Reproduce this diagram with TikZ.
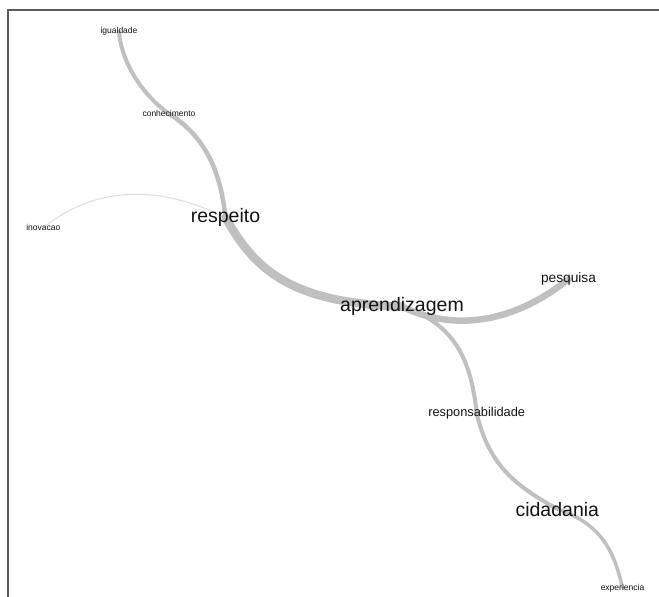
\documentclass[tikz,border=0pt]{standalone}
\usepackage{fontspec}
\setmainfont{Liberation Sans}
\usetikzlibrary{backgrounds}
\definecolor{edgegray}{RGB}{192,192,192}
\definecolor{lightedge}{RGB}{222,222,222}
\definecolor{framegray}{RGB}{90,90,90}
\definecolor{txt}{RGB}{20,20,20}
\begin{document}
\begin{tikzpicture}[x=1pt,y=-1pt,
  lbl/.style={inner sep=0pt, anchor=base, text=txt},
  tiny/.style={lbl, font=\fontsize{8.5}{10}\selectfont},
  mid/.style={lbl, font=\fontsize{12.8}{14}\selectfont},
  big/.style={lbl, font=\fontsize{19.5}{22}\selectfont},
  edge/.style={draw=edgegray, line cap=round},
  faint/.style={draw=lightedge, line cap=round, line width=1pt},
]
\useasboundingbox (0,0) rectangle (659,597);

\node[tiny] (igualdade) at (119,34) {igualdade};
\node[tiny] (conhecimento) at (169,116.7) {conhecimento};
\node[big] (respeito) at (225.5,222.7) {respeito};
\node[tiny] (inovacao) at (43.3,230.7) {inovacao};
\node[big] (aprendizagem) at (402,311.7) {aprendizagem};
\node[font=\fontsize{13.7}{15}\selectfont, lbl] (pesquisa) at (568.5,282.7) {pesquisa};
\node[mid] (responsabilidade) at (476.7,416.7) {responsabilidade};
\node[big] (cidadania) at (557.3,516) {cidadania};
\node[tiny] (experiencia) at (622.5,590) {experiencia};

\begin{scope}[on background layer]
\fill[white] (0,0) rectangle (659,597);
\draw[edge, line width=4pt] (igualdade.center) .. controls +(3,35) and +(-22,-15) .. (conhecimento.center);
\draw[edge, line width=4.5pt] (conhecimento.center) .. controls +(43,27) and +(-4,-35) .. (respeito.center);
\draw[faint] (inovacao.center) .. controls +(50,-40) and +(-70,-35) .. (respeito.center);
\draw[edge, line width=8.5pt] (respeito.center) .. controls +(29.5,52) and +(-112,-4) .. (aprendizagem.center);
\draw[edge, line width=6.5pt] (aprendizagem.center) .. controls +(58,28) and +(-48.5,39) .. (pesquisa.center);
\draw[edge, line width=4pt] (aprendizagem.center) .. controls +(58,18) and +(-5,-45) .. (responsabilidade.center);
\draw[edge, line width=4pt] (responsabilidade.center) .. controls +(12,50) and +(-45,-25) .. (cidadania.center);
\draw[edge, line width=3.5pt] (cidadania.center) .. controls +(45,15) and +(-8,-35) .. (experiencia.center);
\end{scope}
\draw[framegray, line width=1.2pt] (8,597) -- (8,10) -- (659,10);
\end{tikzpicture}
\end{document}
